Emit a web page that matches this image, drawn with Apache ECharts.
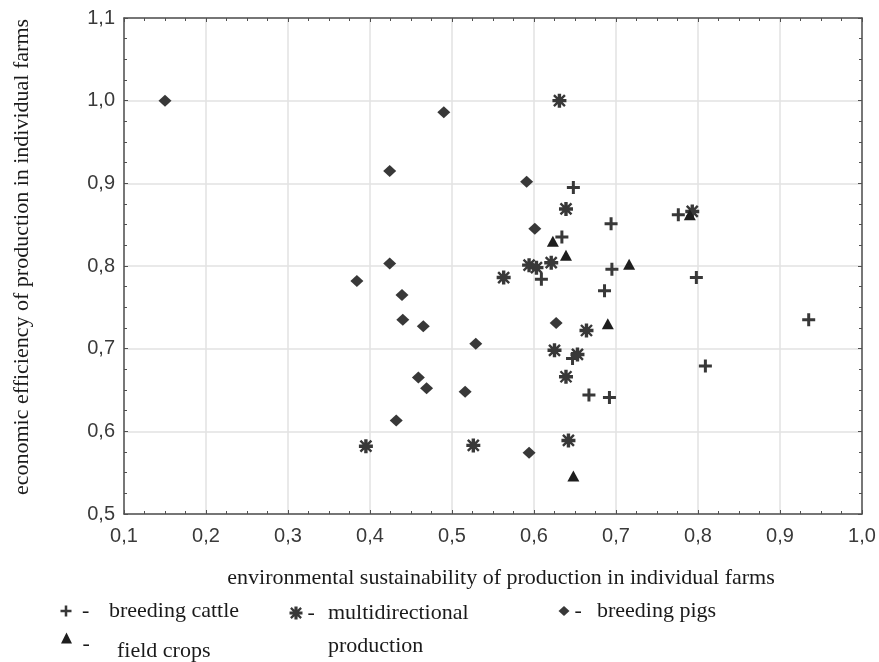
<!DOCTYPE html>
<html><head><meta charset="utf-8">
<script src="https://cdn.jsdelivr.net/npm/echarts@6/dist/echarts.min.js"></script>
<style>html,body{margin:0;padding:0;background:#fff}#c{width:879px;height:662px}</style>
</head><body><div id="c"></div>
<script>
// ---- data (x = environmental sustainability, y = economic efficiency) ----
const seriesNames = ['breeding cattle', 'multidirectional production', 'breeding pigs', 'field crops'];
const breedingCattle = [[0.648,0.895],[0.634,0.835],[0.609,0.784],[0.694,0.851],[0.776,0.862],[0.695,0.796],[0.798,0.786],[0.686,0.770],[0.935,0.735],[0.809,0.679],[0.647,0.688],[0.667,0.644],[0.692,0.641]];
const multidirectional = [[0.631,1.000],[0.639,0.869],[0.621,0.804],[0.594,0.801],[0.603,0.798],[0.563,0.786],[0.793,0.866],[0.664,0.722],[0.625,0.698],[0.653,0.693],[0.639,0.666],[0.395,0.582],[0.526,0.583],[0.642,0.589]];
const breedingPigs = [[0.150,1.000],[0.490,0.986],[0.424,0.915],[0.591,0.902],[0.601,0.845],[0.424,0.803],[0.384,0.782],[0.439,0.765],[0.440,0.735],[0.465,0.727],[0.529,0.706],[0.627,0.731],[0.459,0.665],[0.469,0.652],[0.516,0.648],[0.432,0.613],[0.594,0.574]];
const fieldCrops = [[0.623,0.830],[0.639,0.813],[0.790,0.862],[0.716,0.802],[0.690,0.730],[0.648,0.546]];

const plusPath = 'path://M5,0H8V5H13V8H8V13H5V8H0V5H5Z';
const starPath = 'path://M5.3,0H8.7V14H5.3Z M0,5.3H14V8.7H0Z M2.35,0.65L13.35,11.65L11.65,13.35L0.65,2.35Z M11.65,0.65L13.35,2.35L2.35,13.35L0.65,11.65Z';
const markColor = '#383838';
const axisColor = '#505050';
const fmt = v => v.toFixed(1).replace('.', ',');
const serif = 'Liberation Serif';

function valueAxis(extra) {
  return Object.assign({
    type: 'value',
    axisLine: {show: true, onZero: false, lineStyle: {color: axisColor, width: 1.5}},
    axisTick: {show: true, inside: true, length: 4, lineStyle: {color: axisColor}},
    minorTick: {show: true, splitNumber: 4, length: 3, lineStyle: {color: axisColor}},
    splitLine: {show: false},
    axisLabel: {show: false}
  }, extra);
}

const legendText = {fontFamily: serif, fontSize: 22, color: '#1a1a1a'};

const option = {
  animation: false,
  backgroundColor: '#fff',
  grid: {left: 124, right: 17, top: 18, bottom: 148, containLabel: false},
  xAxis: [
    valueAxis({min: 0.1, max: 1.0, interval: 0.1, position: 'bottom',
      splitLine: {show: true, lineStyle: {color: '#e2e2e2', width: 1.5}},
      axisLabel: {show: true, formatter: fmt, margin: 12, fontFamily: 'Liberation Sans', fontSize: 20, color: '#3a3a3a'},
      name: 'environmental sustainability of production in individual farms',
      nameLocation: 'middle', nameGap: 53,
      nameTextStyle: {fontFamily: serif, fontSize: 22, color: '#1a1a1a', padding: [0, 0, 0, 16]}
    }),
    valueAxis({min: 0.1, max: 1.0, interval: 0.1, position: 'top'})
  ],
  yAxis: [
    valueAxis({min: 0.5, max: 1.1, interval: 0.1, position: 'left',
      splitLine: {show: true, lineStyle: {color: '#e2e2e2', width: 1.5}},
      axisLabel: {show: true, formatter: fmt, margin: 9, fontFamily: 'Liberation Sans', fontSize: 20, color: '#3a3a3a'},
      name: 'economic efficiency of production in individual farms',
      nameLocation: 'middle', nameGap: 91,
      nameTextStyle: {fontFamily: serif, fontSize: 22, color: '#1a1a1a', padding: [0, 0, 0, 18]}
    }),
    valueAxis({min: 0.5, max: 1.1, interval: 0.1, position: 'right'})
  ],
  legend: [
    {data: [seriesNames[0]], left: 60.5, top: 600, padding: 0, itemWidth: 11, itemHeight: 11,
      formatter: n => '{d| -}{t|' + n + '}',
      textStyle: Object.assign({}, legendText, {rich: {d: {width: 32.5, align: 'left', fontFamily: serif, fontSize: 22, lineHeight: 22}, t: {fontFamily: serif, fontSize: 22, lineHeight: 22}}})},
    {data: [seriesNames[1]], left: 289.5, top: 602, padding: 0, itemWidth: 13, itemHeight: 13,
      formatter: () => '{d|-}{t|multidirectional}\n{d| }{t|production}',
      textStyle: Object.assign({}, legendText, {padding: [33, 0, 0, 0], rich: {d: {width: 20.5, align: 'left', fontFamily: serif, fontSize: 22, lineHeight: 33}, t: {fontFamily: serif, fontSize: 22, lineHeight: 33}}})},
    {data: [seriesNames[2]], left: 558.5, top: 600, padding: 0, itemWidth: 11, itemHeight: 10,
      formatter: n => '{d|-}{t|' + n + '}',
      textStyle: Object.assign({}, legendText, {rich: {d: {width: 22.5, align: 'left', fontFamily: serif, fontSize: 22, lineHeight: 22}, t: {fontFamily: serif, fontSize: 22, lineHeight: 22}}})},
    {data: [seriesNames[3]], left: 61, top: 627, padding: 0, itemWidth: 11, itemHeight: 11,
      formatter: n => '{d| -}{t|' + n + '}',
      textStyle: Object.assign({}, legendText, {padding: [13, 0, 0, 0], rich: {d: {width: 40, align: 'left', verticalAlign: 'top', fontFamily: serif, fontSize: 22, lineHeight: 22}, t: {fontFamily: serif, fontSize: 22, lineHeight: 22, padding: [13, 0, 0, 0]}}})}
  ],
  series: [
    {name: seriesNames[0], type: 'scatter', data: breedingCattle, symbol: plusPath, symbolSize: 13, itemStyle: {color: markColor, opacity: 1}},
    {name: seriesNames[1], type: 'scatter', data: multidirectional, symbol: starPath, symbolSize: 14, itemStyle: {color: markColor, opacity: 1}},
    {name: seriesNames[2], type: 'scatter', data: breedingPigs, symbol: 'diamond', symbolSize: [13, 12], itemStyle: {color: markColor, opacity: 1}},
    {name: seriesNames[3], type: 'scatter', data: fieldCrops, symbol: 'triangle', symbolSize: [12, 11], itemStyle: {color: '#1e1e1e', opacity: 1}}
  ]
};
const chart = echarts.init(document.getElementById('c'), null, {renderer: 'canvas'});
chart.setOption(option);
</script>
</body></html>
